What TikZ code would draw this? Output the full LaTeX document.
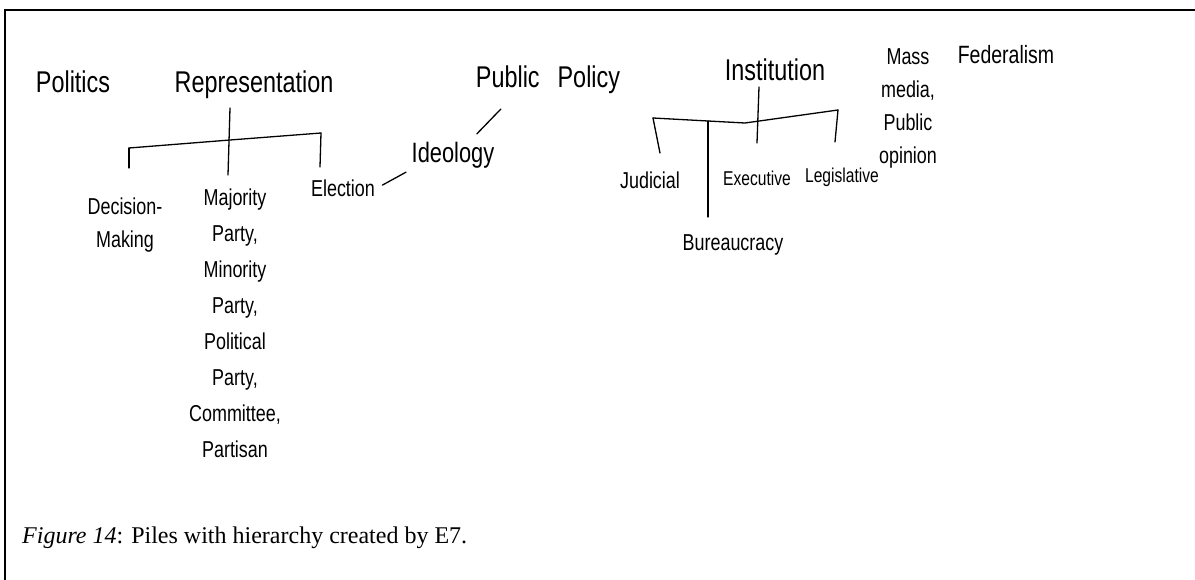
\documentclass[tikz,border=0pt]{standalone}
\usepackage{fontspec}
\setmainfont{Liberation Serif}
\newfontfamily\handfam[FakeStretch=0.78]{Liberation Sans}
\usetikzlibrary{calc}
\newcommand{\handbig}{\handfam\fontsize{30}{34}\selectfont}
\newcommand{\handsmall}{\handfam\fontsize{23}{33}\selectfont}

\begin{document}
\begin{tikzpicture}[x=1pt, y=-1pt,
  head/.style={font=\handbig, inner sep=2pt},
  pile/.style={font=\handsmall, inner sep=2pt, align=center},
  twig/.style={line width=1.3pt, line cap=round}]
  \useasboundingbox (0,0) rectangle (1195,580);
  % frame of the scanned page
  \draw[line width=1.6pt] (5,580) -- (5,10) -- (1195,10);

  % top piles
  \node[head] (pol) at (73,82) {Politics};
  \node[head] (rep) at (254,85) {Representation};
  \node[head] (pubpol) at (548,80) {Public\hspace{0.6em}Policy};
  \node[head, font=\handfam\fontsize{28}{32}\selectfont] (ideo) at (453,155) {Ideology};
  \node[head] (inst) at (775,70) {Institution};
  \node[pile] (mass) at (908,108) {Mass\\media,\\Public\\opinion};
  \node[pile, font=\handfam\fontsize{25}{30}\selectfont] (fed) at (1006,55) {Federalism};

  % under Representation
  \node[pile] (dec) at (125,225) {Decision-\\Making};
  \node[pile, font=\handfam\fontsize{23}{36}\selectfont] (maj) at (235,323)
    {Majority\\Party,\\Minority\\Party,\\Political\\Party,\\Committee,\\Partisan};
  \node[pile] (elec) at (343,188) {Election};

  % under Institution
  \node[pile] (jud) at (650,180) {Judicial};
  \node[pile, font=\handfam\fontsize{20}{30}\selectfont] (exe) at (757,178) {Executive};
  \node[pile, font=\handfam\fontsize{20}{30}\selectfont] (leg) at (842,177) {Legislative};
  \node[pile] (bur) at (733,245) {Bureaucracy};

  % hierarchy lines
  \coordinate (repTop) at (230,108);
  \coordinate (repBot) at (228,175);
  \coordinate (repL) at (129,148);
  \coordinate (repM) at (230,140);
  \coordinate (repR) at (321,133);
  \coordinate (decTop) at (129,168);
  \coordinate (elecTop) at (320,167);
  \draw[twig] (repTop) -- (repBot);
  \draw[twig] (repL) -- (repM) -- (repR);

  \coordinate (instTop) at (759,87);
  \coordinate (instBot) at (757,143);
  \coordinate (instL) at (653,118);
  \coordinate (instB) at (708,121);
  \coordinate (instM) at (745,123);
  \coordinate (instR) at (838,110);
  \coordinate (judTop) at (660,153);
  \coordinate (burTop) at (708,217);
  \coordinate (legTop) at (835,142);
  \draw[twig] (instTop) -- (instBot);
  \draw[twig] (instL) -- (instB) -- (instM) -- (instR);

  \foreach \a/\b in {repL/decTop, repR/elecTop, instL/judTop, instB/burTop, instR/legTop}
    \draw[twig] (\a) -- (\b);

  % loose links
  \draw[twig, shorten <=6pt, shorten >=4pt] (elec.east) -- (ideo.south west);
  \draw[twig, shorten <=8pt, shorten >=18pt] (ideo.40) -- (pubpol.205);

  % caption
  \node[anchor=base west, inner sep=0pt, font=\fontsize{24}{28}\selectfont] (cap) at (22,543)
    {\textit{Figure 14}: Piles with hierarchy created by E7.};
\end{tikzpicture}
\end{document}
